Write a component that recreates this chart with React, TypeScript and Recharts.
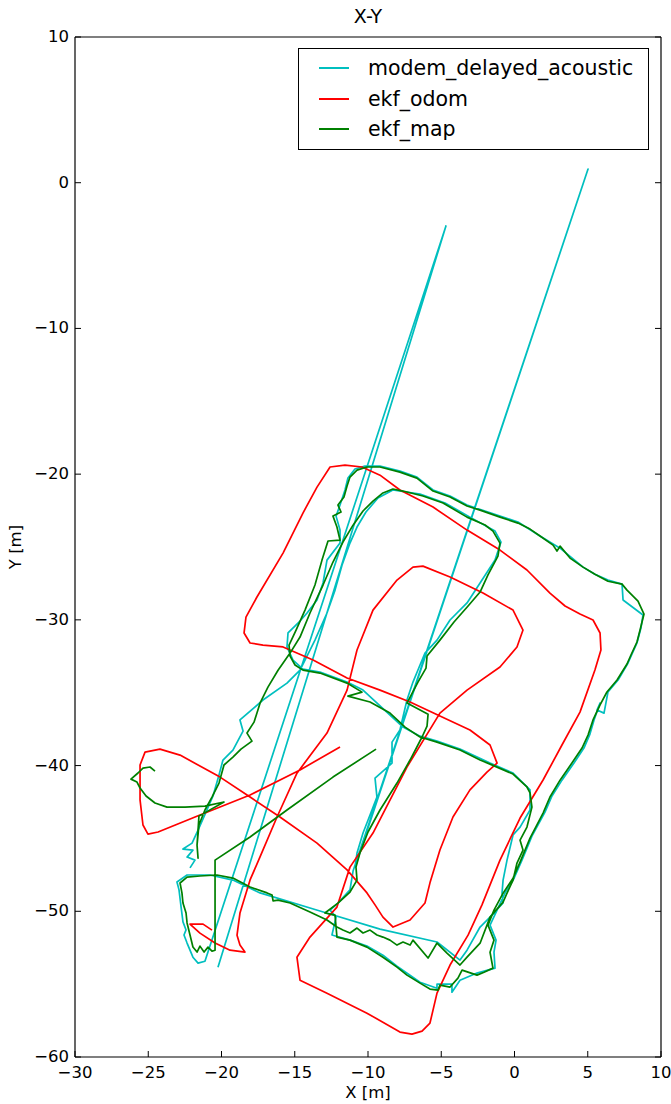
import { LineChart, Line, XAxis, YAxis } from "recharts";

const xTicks = [-30, -25, -20, -15, -10, -5, 0, 5, 10];
const yTicks = [10, 0, -10, -20, -30, -40, -50, -60];

const seriesNames = ["modem_delayed_acoustic", "ekf_odom", "ekf_map"];
const seriesColors = ["#00bfbf", "#ff0000", "#008000"];

// [x, y] in metres
const acoustic: [number, number][] = [
  [-22.15, -47.02], [-21.81, -46.49], [-22.35, -46.28], [-21.95, -45.8], [-22.63, -45.73], [-22.01, -45.32],
  [-21.6, -44.43], [-21.06, -43.19], [-20.58, -42.09], [-20.17, -40.65], [-19.9, -39.62], [-19.22, -38.94],
  [-18.53, -37.63], [-18.74, -36.87], [-17.17, -35.5], [-15.53, -34.34], [-14.64, -33.45], [-13.62, -31.39],
  [-12.8, -29.53], [-12.25, -27.96], [-11.77, -26.24], [-11.23, -24.73], [-10.75, -23.63], [-10.14, -22.6],
  [-9.32, -21.64], [-8.3, -21.09], [-6.45, -21.37], [-4.74, -21.98], [-3.04, -22.95], [-1.33, -23.91],
  [-0.92, -24.66], [-1.33, -25.89], [-2.35, -27.47], [-3.24, -28.84], [-4.4, -30.01], [-5.29, -31.39],
  [-6.11, -32.28], [-6.45, -33.1], [-6.93, -34.27], [-7.34, -35.5], [-7.82, -37.56], [-8.36, -38.39],
  [-8.36, -39.83], [-9.52, -40.86], [-9.39, -42.16], [-9.73, -43.05], [-10.34, -44.63], [-10.75, -46.0],
  [-10.89, -46.97], [5.02, 0.94], [-11.02, -47.24], [-11.23, -48.53], [-12.05, -49.44], [-12.59, -49.92],
  [-12.18, -50.4], [-12.46, -51.63], [-11.23, -51.98], [-10.07, -52.39], [-8.98, -53.01], [-8.02, -53.77],
  [-6.45, -54.87], [-5.29, -55.28], [-5.29, -55.0], [-4.27, -55.0], [-4.27, -55.55], [-3.72, -54.73],
  [-2.56, -54.24], [-1.33, -53.9], [-1.4, -52.81], [-1.26, -51.98], [-1.67, -50.95], [-1.19, -49.92],
  [-0.65, -48.75], [-0.03, -47.73], [0.51, -46.49], [1.19, -44.84], [2.08, -43.19], [2.56, -42.09],
  [3.24, -41.0], [4.06, -39.83], [4.74, -38.8], [5.15, -37.84], [5.43, -36.87], [5.84, -35.71],
  [5.63, -36.19], [6.11, -36.4], [6.38, -34.95], [7.07, -34.13], [7.75, -32.96], [8.36, -31.59],
  [8.63, -30.56], [8.77, -29.67], [7.41, -28.64], [7.34, -27.55], [6.38, -27.27], [5.49, -26.87],
  [4.68, -26.38], [3.11, -25.08], [1.74, -24.25], [0.24, -23.29], [-0.99, -22.88], [-3.24, -22.12],
  [-4.4, -21.5], [-5.56, -21.09], [-6.66, -20.2], [-7.82, -19.79], [-9.18, -19.45], [-10.21, -19.45],
  [-10.89, -19.65], [-11.37, -20.27], [-11.57, -21.09], [-11.91, -22.12], [-12.18, -22.88], [-11.91, -23.84],
  [-11.91, -24.73], [-12.8, -25.9], [-13.07, -27.47], [-13.48, -28.64], [-14.16, -29.53], [-14.64, -30.08],
  [-15.46, -30.9], [-15.53, -31.86], [-15.12, -32.76], [-14.44, -33.38], [-13.28, -33.58], [-11.43, -34.27],
  [-10.34, -34.82], [-7.61, -37.36], [-6.45, -37.98], [-5.29, -38.32], [-3.72, -38.87], [-1.67, -39.83],
  [-0.1, -40.51], [1.06, -41.67], [1.06, -43.05], [0.38, -44.22], [-0.1, -44.76], [-0.51, -46.49],
  [-0.78, -47.86], [-0.85, -48.75], [-0.78, -49.43], [-1.67, -50.4], [-2.35, -51.08], [-3.24, -52.67],
  [-3.72, -53.35], [-5.29, -52.11], [-9.18, -51.22], [-13.28, -49.98], [-17.37, -48.74], [-19.22, -47.86],
  [-20.79, -47.51], [-22.35, -47.51], [-23.04, -47.99], [-22.9, -48.53], [-22.76, -49.7], [-22.63, -50.73],
  [-22.42, -51.28], [-22.56, -51.63], [-22.35, -52.18], [-21.95, -53.15], [-21.6, -53.56], [-21.13, -53.43],
  [-4.68, -2.97], [-20.24, -53.84],
];

const ekfOdom: [number, number][] = [
  [-20.65, -51.29], [-21.26, -50.88], [-22.15, -50.88], [-21.47, -51.5], [-20.44, -52.18], [-19.42, -52.67],
  [-18.4, -52.8], [-18.74, -52.32], [-18.94, -51.64], [-18.74, -50.12], [-18.05, -47.85], [-17.37, -46.27],
  [-16.21, -43.53], [-14.85, -40.52], [-12.8, -37.77], [-11.43, -34.82], [-10.75, -32.07], [-9.66, -29.33],
  [-8.02, -27.27], [-6.93, -26.38], [-6.25, -26.31], [-4.4, -27.06], [-2.15, -28.16], [-0.1, -29.33],
  [0.58, -30.7], [0.17, -31.86], [-0.99, -33.24], [-3.24, -34.82], [-5.09, -36.4], [-7.34, -40.1],
  [-9.66, -44.63], [-11.23, -46.97], [-12.12, -49.71], [-13.96, -51.77], [-14.85, -53.15], [-14.64, -54.73],
  [-12.8, -55.62], [-10.07, -56.99], [-7.82, -58.29], [-7.0, -58.43], [-6.31, -58.22], [-5.77, -57.67],
  [-5.29, -55.62], [-4.4, -53.69], [-3.17, -51.64], [-2.22, -49.56], [-0.99, -46.49], [0.38, -43.6],
  [1.95, -40.99], [3.24, -38.59], [4.47, -36.33], [5.49, -33.44], [5.9, -32.07], [5.84, -30.9],
  [5.36, -30.01], [4.47, -29.6], [3.45, -29.05], [2.42, -28.16], [0.85, -26.58], [-0.99, -25.21],
  [-3.24, -23.84], [-5.56, -22.26], [-7.82, -21.09], [-9.18, -20.07], [-10.41, -19.51], [-11.57, -19.38],
  [-12.59, -19.51], [-13.48, -20.89], [-14.44, -22.67], [-15.8, -25.42], [-17.58, -28.43], [-18.33, -29.81],
  [-18.46, -30.9], [-18.05, -31.59], [-17.17, -31.73], [-15.8, -31.86], [-13.75, -32.76], [-11.43, -33.99],
  [-9.18, -34.82], [-7.13, -35.64], [-5.09, -36.6], [-3.04, -37.56], [-1.67, -38.59], [-1.19, -39.83],
  [-1.88, -40.45], [-3.04, -41.67], [-4.2, -43.53], [-5.09, -45.79], [-5.77, -48.05], [-6.11, -49.43],
  [-7.13, -50.6], [-8.29, -51.08], [-8.98, -50.4], [-9.52, -49.56], [-10.07, -48.74], [-11.43, -47.16],
  [-13.48, -45.32], [-16.01, -43.53], [-18.05, -42.16], [-20.1, -40.79], [-22.83, -39.28], [-24.2, -38.87],
  [-25.22, -39.08], [-25.56, -39.96], [-25.56, -42.36], [-25.36, -44.08], [-25.02, -44.7], [-24.33, -44.56],
  [-21.47, -43.39], [-18.05, -42.02], [-14.64, -40.3], [-11.91, -38.72],
];

const ekfMap: [number, number][] = [
  [-24.54, -40.38], [-24.88, -40.1], [-25.36, -40.17], [-25.7, -40.51], [-26.18, -40.93], [-25.77, -41.13],
  [-25.56, -41.54], [-25.15, -42.09], [-24.54, -42.57], [-23.72, -42.85], [-22.49, -42.85], [-21.13, -42.78],
  [-19.83, -42.5], [-21.54, -43.47], [-21.6, -44.43], [-21.67, -45.46], [-21.6, -46.35], [-21.67, -45.46],
  [-21.54, -44.08], [-21.13, -43.05], [-20.65, -42.16], [-20.17, -41.2], [-19.83, -39.96], [-19.22, -39.42],
  [-18.67, -38.87], [-17.92, -38.32], [-18.26, -37.77], [-17.78, -37.02], [-17.37, -35.72], [-16.83, -34.62],
  [-16.14, -33.46], [-15.32, -32.28], [-14.64, -31.18], [-13.96, -29.53], [-13.07, -27.61], [-12.39, -26.03],
  [-11.71, -24.66], [-11.02, -23.5], [-10.34, -22.53], [-9.66, -21.85], [-8.98, -21.29], [-8.3, -21.02],
  [-7.61, -21.16], [-6.25, -21.5], [-4.88, -21.98], [-3.24, -22.95], [-2.01, -23.49], [-1.47, -23.91],
  [-0.99, -24.73], [-1.13, -25.62], [-1.81, -26.92], [-2.35, -28.09], [-3.17, -29.05], [-4.13, -30.15],
  [-5.09, -31.39], [-5.97, -32.48], [-6.04, -33.31], [-6.59, -34.27], [-7.34, -35.71], [-5.9, -36.47],
  [-5.97, -37.29], [-6.31, -38.04], [-7.13, -39.62], [-8.02, -41.2], [-9.18, -43.05], [-10.0, -44.56],
  [-10.55, -46.0], [-10.82, -46.97], [-10.75, -47.86], [-11.23, -48.68], [-12.05, -49.44], [-12.94, -50.12],
  [-12.25, -50.26], [-12.12, -51.77], [-11.23, -51.98], [-10.07, -52.46], [-8.98, -53.15], [-8.02, -53.83],
  [-7.34, -54.38], [-6.45, -54.93], [-5.77, -55.34], [-5.22, -55.41], [-5.09, -55.07], [-4.4, -55.2],
  [-3.86, -54.59], [-3.58, -54.04], [-2.56, -54.38], [-2.08, -54.18], [-1.47, -53.9], [-1.67, -52.81],
  [-1.4, -51.98], [-1.81, -50.95], [-1.4, -49.92], [-0.78, -48.76], [-0.1, -47.73], [0.38, -46.63],
  [1.06, -44.98], [1.95, -43.26], [2.42, -42.16], [3.11, -41.0], [3.92, -39.83], [4.61, -38.8],
  [5.02, -37.91], [5.36, -36.87], [5.84, -35.84], [6.31, -34.95], [7.0, -34.13], [7.68, -33.03],
  [7.95, -32.41], [8.36, -31.52], [8.57, -30.7], [8.84, -29.6], [8.43, -28.71], [8.09, -28.37],
  [7.68, -27.96], [7.34, -27.55], [6.38, -27.35], [5.49, -26.87], [4.68, -26.38], [3.79, -25.76],
  [3.11, -24.94], [2.9, -25.28], [2.63, -24.87], [1.74, -24.25], [1.06, -23.77], [0.24, -23.36],
  [-0.99, -22.95], [-2.35, -22.47], [-3.24, -22.19], [-4.4, -21.57], [-5.56, -21.16], [-6.66, -20.27],
  [-7.82, -19.86], [-9.18, -19.51], [-10.07, -19.51], [-10.75, -19.72], [-11.23, -20.2], [-11.43, -20.81],
  [-11.64, -21.57], [-12.05, -22.12], [-11.84, -22.6], [-12.39, -22.88], [-12.12, -23.63], [-11.91, -24.53],
  [-12.73, -24.59], [-13.14, -25.9], [-13.62, -27.61], [-14.3, -29.33], [-14.91, -30.7], [-15.39, -31.73],
  [-15.32, -32.49], [-14.98, -33.1], [-14.44, -33.45], [-13.28, -33.65], [-11.43, -34.34], [-10.41, -34.96],
  [-11.37, -35.23], [-9.86, -35.64], [-8.5, -36.4], [-7.47, -37.36], [-6.45, -38.04], [-5.29, -38.39],
  [-3.72, -38.93], [-2.35, -39.62], [-1.67, -39.9], [-0.1, -40.58], [0.85, -41.47], [1.06, -41.88],
  [1.19, -42.85], [0.85, -44.22], [0.38, -45.12], [0.58, -45.8], [0.17, -46.69], [-0.1, -47.86],
  [-0.51, -48.75], [-0.78, -49.37], [-1.67, -50.4], [-2.35, -52.19], [-3.24, -53.15], [-3.72, -53.69],
  [-4.61, -52.87], [-5.29, -52.18], [-5.9, -53.21], [-6.93, -51.98], [-7.13, -52.32], [-7.61, -52.11],
  [-8.02, -52.32], [-8.5, -51.98], [-8.98, -51.77], [-9.39, -51.63], [-9.86, -51.29], [-10.34, -51.49],
  [-10.75, -51.15], [-11.23, -51.49], [-11.71, -51.29], [-12.12, -51.08], [-12.8, -50.6], [-13.96, -50.05],
  [-15.32, -49.43], [-16.14, -49.23], [-16.48, -49.29], [-16.55, -48.88], [-16.89, -48.74], [-18.05, -48.33],
  [-19.22, -47.72], [-20.31, -47.51], [-21.47, -47.58], [-22.35, -47.65], [-22.83, -48.06], [-22.7, -48.74],
  [-22.63, -49.43], [-22.42, -50.12], [-22.35, -50.8], [-22.15, -51.63], [-21.95, -52.45], [-21.67, -52.8],
  [-21.47, -52.39], [-21.19, -52.8], [-20.92, -52.46], [-20.65, -52.74], [-20.44, -52.67], [-20.44, -49.58],
  [-20.44, -46.49], [-18.05, -44.9], [-15.53, -43.05], [-12.39, -40.79], [-9.45, -38.87],
];

const seriesData = [acoustic, ekfOdom, ekfMap].map((pts) => pts.map(([x, y]) => ({ x, y })));

const FONT = "DejaVu Sans, sans-serif";
const fmt = (v: number) => (v < 0 ? `\u2212${Math.abs(v)}` : String(v));

// ticks point inwards, matplotlib style
function BottomTick(p: any) {
  return (
    <g>
      <line x1={p.x} y1={p.y} x2={p.x} y2={p.y - 6} stroke="#000" strokeWidth={1} />
      <text x={p.x} y={p.y + 21} textAnchor="middle" fontSize={16.5} fontFamily={FONT} fill="#000">
        {fmt(p.payload.value)}
      </text>
    </g>
  );
}

function TopTick(p: any) {
  return <line x1={p.x} y1={p.y} x2={p.x} y2={p.y + 6} stroke="#000" strokeWidth={1} />;
}

function LeftTick(p: any) {
  return (
    <g>
      <line x1={p.x} y1={p.y} x2={p.x + 6} y2={p.y} stroke="#000" strokeWidth={1} />
      <text x={p.x - 6} y={p.y + 5} textAnchor="end" fontSize={16.5} fontFamily={FONT} fill="#000">
        {fmt(p.payload.value)}
      </text>
    </g>
  );
}

function RightTick(p: any) {
  return <line x1={p.x} y1={p.y} x2={p.x - 6} y2={p.y} stroke="#000" strokeWidth={1} />;
}

const axisLine = { stroke: "#000", strokeWidth: 1.2 };

export default function App() {
  return (
    <div style={{ position: "relative", width: 671, height: 1104, background: "#fff", fontFamily: FONT }}>
      <style>{"body{margin:0}"}</style>
      <LineChart width={671} height={1104} margin={{ top: 36, right: 9, bottom: 46, left: 74 }}>
        <XAxis
          xAxisId="b"
          type="number"
          dataKey="x"
          domain={[-30, 10]}
          ticks={xTicks}
          interval={0}
          height={1}
          tickSize={0}
          tickMargin={0}
          tickLine={false}
          axisLine={axisLine}
          tick={(p: any) => <BottomTick {...p} />}
          allowDataOverflow
        />
        <XAxis
          xAxisId="t"
          orientation="top"
          type="number"
          domain={[-30, 10]}
          ticks={xTicks}
          interval={0}
          height={1}
          tickSize={0}
          tickMargin={0}
          tickLine={false}
          axisLine={axisLine}
          tick={(p: any) => <TopTick {...p} />}
          allowDataOverflow
        />
        <YAxis
          yAxisId="l"
          type="number"
          domain={[-60, 10]}
          ticks={yTicks}
          interval={0}
          width={1}
          tickSize={0}
          tickMargin={0}
          tickLine={false}
          axisLine={axisLine}
          tick={(p: any) => <LeftTick {...p} />}
          allowDataOverflow
        />
        <YAxis
          yAxisId="r"
          orientation="right"
          type="number"
          domain={[-60, 10]}
          ticks={yTicks}
          interval={0}
          width={1}
          tickSize={0}
          tickMargin={0}
          tickLine={false}
          axisLine={axisLine}
          tick={(p: any) => <RightTick {...p} />}
          allowDataOverflow
        />
        {seriesData.map((d, i) => (
          <Line
            key={seriesNames[i]}
            xAxisId="b"
            yAxisId="l"
            data={d}
            dataKey="y"
            name={seriesNames[i]}
            type="linear"
            stroke={seriesColors[i]}
            strokeWidth={1.7}
            strokeLinejoin="round"
            dot={false}
            activeDot={false}
            isAnimationActive={false}
          />
        ))}
      </LineChart>

      <div style={{ position: "absolute", left: 0, width: 736, top: 5, textAlign: "center", fontSize: 19, lineHeight: "22px" }}>
        X-Y
      </div>
      <div style={{ position: "absolute", left: 0, width: 736, top: 1083, textAlign: "center", fontSize: 16.5, lineHeight: "20px" }}>
        X [m]
      </div>
      <div
        style={{
          position: "absolute",
          left: 15,
          top: 547,
          transform: "translate(-50%, -50%) rotate(-90deg)",
          fontSize: 16.5,
          whiteSpace: "nowrap",
        }}
      >
        Y [m]
      </div>

      <div
        style={{
          position: "absolute",
          left: 298,
          top: 48,
          width: 351,
          height: 102,
          boxSizing: "border-box",
          border: "1px solid #000",
          background: "#fff",
        }}
      >
        {seriesNames.map((n, i) => (
          <div key={n} style={{ position: "absolute", left: 0, top: 6 + i * 30.5, height: 26, width: "100%" }}>
            <div style={{ position: "absolute", left: 20, top: 12, width: 30, height: 2, background: seriesColors[i] }} />
            <div style={{ position: "absolute", left: 69, top: 0, fontSize: 20.5, lineHeight: "26px", whiteSpace: "nowrap" }}>
              {n}
            </div>
          </div>
        ))}
      </div>
    </div>
  );
}
